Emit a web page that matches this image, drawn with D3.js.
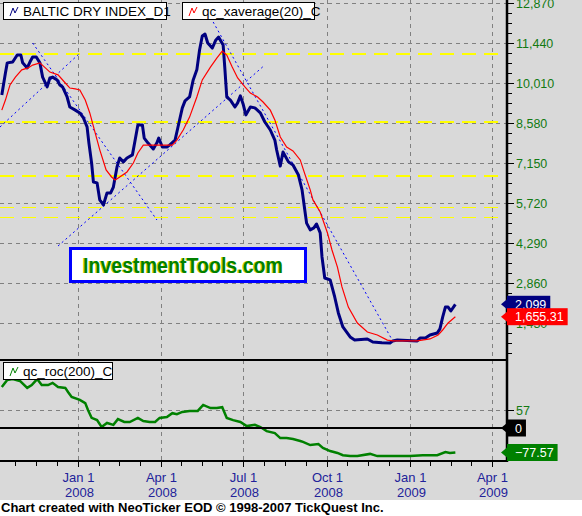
<!DOCTYPE html>
<html><head><meta charset="utf-8">
<script src="https://cdn.jsdelivr.net/npm/d3@7"></script>
<style>body{margin:0;background:#fff}svg{display:block}</style>
</head><body>
<script>
// ---------- DATA ----------
const bdiDates = ["2007-10-09","2007-10-13","2007-10-15","2007-10-21","2007-10-26","2007-10-30","2007-11-01","2007-11-06","2007-11-09","2007-11-12","2007-11-16","2007-11-20","2007-11-23","2007-11-28","2007-12-01","2007-12-04","2007-12-09","2007-12-12","2007-12-15","2007-12-20","2007-12-23","2007-12-29","2008-01-03","2008-01-07","2008-01-11","2008-01-13","2008-01-16","2008-01-18","2008-01-22","2008-01-25","2008-01-29","2008-02-02","2008-02-06","2008-02-09","2008-02-13","2008-02-16","2008-02-20","2008-02-24","2008-03-01","2008-03-04","2008-03-07","2008-03-12","2008-03-14","2008-03-18","2008-03-24","2008-03-28","2008-03-30","2008-04-03","2008-04-08","2008-04-11","2008-04-17","2008-04-20","2008-04-25","2008-04-28","2008-05-03","2008-05-07","2008-05-11","2008-05-14","2008-05-17","2008-05-20","2008-05-23","2008-05-28","2008-06-01","2008-06-04","2008-06-09","2008-06-11","2008-06-13","2008-06-17","2008-06-22","2008-06-25","2008-06-28","2008-07-01","2008-07-04","2008-07-09","2008-07-14","2008-07-20","2008-07-25","2008-07-31","2008-08-05","2008-08-07","2008-08-11","2008-08-14","2008-08-20","2008-08-25","2008-08-31","2008-09-04","2008-09-07","2008-09-09","2008-09-13","2008-09-17","2008-09-20","2008-09-24","2008-09-26","2008-09-29","2008-10-05","2008-10-10","2008-10-14","2008-10-19","2008-10-27","2008-11-01","2008-11-15","2008-11-21","2008-12-01","2008-12-10","2008-12-13","2008-12-18","2009-01-09","2009-01-12","2009-01-18","2009-01-23","2009-01-31","2009-02-03","2009-02-06","2009-02-09","2009-02-12","2009-02-15","2009-02-20"];
const bdiValues = [9580,10370,10730,10760,11010,11010,10730,10550,10760,10940,10940,10730,10220,9870,10190,10220,10120,9940,9870,9510,9150,9040,8940,8760,8440,7870,7150,6470,6440,5830,5650,6080,6080,6290,7010,7330,7190,7330,7440,7970,8510,8510,8040,7870,7650,7870,8040,7720,7720,7790,7970,8400,9120,9370,9510,10120,10480,11190,11690,11760,11440,11260,11550,11650,11370,10480,9510,9400,9150,9300,9550,9260,8870,9150,9120,8940,8615,8330,7970,7615,7040,7540,7190,7080,6720,6190,5470,5000,4760,4830,4970,4650,3790,3040,2970,2360,1790,1290,930,820,860,750,720,715,790,820,790,890,890,1000,1070,1220,1640,2000,2000,1860,2099];

const emaDates = ["2007-10-09","2007-10-13","2007-10-18","2007-10-24","2007-10-31","2007-11-07","2007-11-12","2007-11-20","2007-11-26","2007-12-01","2007-12-10","2007-12-18","2007-12-23","2007-12-29","2008-01-03","2008-01-09","2008-01-14","2008-01-20","2008-01-25","2008-02-01","2008-02-07","2008-02-11","2008-02-16","2008-02-24","2008-03-02","2008-03-07","2008-03-13","2008-03-24","2008-04-04","2008-04-14","2008-04-19","2008-04-26","2008-05-03","2008-05-11","2008-05-17","2008-05-26","2008-06-02","2008-06-08","2008-06-13","2008-06-19","2008-06-25","2008-07-03","2008-07-09","2008-07-17","2008-07-23","2008-07-31","2008-08-05","2008-08-11","2008-08-18","2008-08-25","2008-09-02","2008-09-07","2008-09-13","2008-09-16","2008-09-24","2008-10-02","2008-10-07","2008-10-13","2008-10-18","2008-10-25","2008-11-04","2008-11-15","2008-11-26","2008-12-07","2008-12-13","2009-01-09","2009-01-23","2009-02-01","2009-02-06","2009-02-12","2009-02-20"];
const emaValues = [9040,9400,9940,10220,10480,10550,10650,10730,10550,10400,10300,10010,9830,9800,9760,9400,8940,8220,7620,6900,6650,6540,6650,6830,7150,7510,7790,7790,7790,7790,7970,8330,8790,9510,10120,10580,10900,11150,11010,10580,10190,9870,9650,9510,9330,9040,8690,8080,7720,7580,7260,6760,6190,5830,5400,4650,4040,3430,2720,2000,1430,1110,1000,820,790,790,860,1000,1180,1430,1655.31];

const rocDates = ["2007-10-09","2007-10-15","2007-10-21","2007-10-29","2007-11-06","2007-11-11","2007-11-17","2007-11-22","2007-11-29","2007-12-04","2007-12-10","2007-12-18","2007-12-21","2007-12-25","2008-01-03","2008-01-09","2008-01-12","2008-01-16","2008-01-22","2008-01-27","2008-02-02","2008-02-09","2008-02-14","2008-02-21","2008-02-27","2008-03-07","2008-03-13","2008-03-20","2008-03-26","2008-03-31","2008-04-08","2008-04-14","2008-04-19","2008-04-25","2008-05-03","2008-05-12","2008-05-18","2008-05-26","2008-06-02","2008-06-08","2008-06-13","2008-06-20","2008-06-28","2008-07-05","2008-07-14","2008-07-20","2008-07-27","2008-08-05","2008-08-11","2008-08-18","2008-08-25","2008-09-02","2008-09-05","2008-09-13","2008-09-22","2008-09-27","2008-10-05","2008-10-13","2008-10-19","2008-10-27","2008-11-04","2008-11-18","2008-11-26","2008-12-18","2009-01-01","2009-01-15","2009-01-31","2009-02-09","2009-02-14","2009-02-20"];
const rocValues = [130,152,155,149,127,136,155,136,136,143,130,127,114,98,89,79,57,32,25,3,16,10,28,19,19,32,22,19,19,32,35,47,44,51,54,54,73,63,63,66,32,25,19,6,10,3,-10,-16,-32,-32,-35,-41,-44,-54,-51,-63,-73,-79,-86,-89,-89,-82,-89,-89,-89,-86,-86,-76,-79,-77.57];

const priceTicks = [1430,2860,4290,5720,7150,8580,10010,11440,12870];
const rocTicks = [57];
const quarterDates = ["2008-01-01","2008-04-01","2008-07-01","2008-10-01","2009-01-01","2009-04-01"];
const quarterMonthLabels = ["Jan 1","Apr 1","Jul 1","Oct 1","Jan 1","Apr 1"];
const quarterYearLabels = ["2008","2008","2008","2008","2009","2009"];
const minorTickStart = "2007-10-01";

const levelsThick = [11047, 8616, 6685];
const levelsThin = [5577, 5220];
// trend lines: [startDate, startValue, endDate, endValue]
const trendLines = [
  ["2007-10-07", 8437, "2008-01-02", 11047],
  ["2007-11-12", 11440, "2008-03-28", 5112],
  ["2007-12-10", 4183, "2008-07-25", 10654],
  ["2008-05-29", 12191, "2008-12-13", 787]
];
const seriesNames = ["BALTIC DRY INDEX_D1", "qc_xaverage(20)_C", "qc_roc(200)_C"];

// ---------- CHART ----------
const W = 582, H = 516;
const FONT = "'Liberation Sans', Arial, sans-serif";
const parse = d3.timeParse("%Y-%m-%d");
const R = 507, mainBot = 359, lowTop = 360, lowBot = 461;

const x = d3.scaleTime().domain([parse("2008-01-01"), parse("2009-01-01")]).range([78, 410]);
const y = d3.scaleLinear().domain([1430, 12870]).range([323, 3]);
const yr = d3.scaleLinear().domain([0, 57]).range([428, 410]);

const svg = d3.select("body").append("svg").attr("width", W).attr("height", H)
  .style("font-family", FONT);

svg.append("rect").attr("width", W).attr("height", 500).attr("fill", "#d9d9d9");
svg.append("rect").attr("y", 500).attr("width", W).attr("height", 16).attr("fill", "#ffffff");

const defs = svg.append("defs");
defs.append("clipPath").attr("id", "cm").append("rect").attr("x", 0).attr("y", 0).attr("width", R).attr("height", mainBot);
defs.append("clipPath").attr("id", "cl").append("rect").attr("x", 0).attr("y", lowTop).attr("width", R).attr("height", lowBot - lowTop);

const gMain = svg.append("g").attr("clip-path", "url(#cm)");
const gLow = svg.append("g").attr("clip-path", "url(#cl)");

const qd = quarterDates.map(parse);

// grid
priceTicks.forEach(v => {
  gMain.append("line").attr("x1", 0).attr("x2", R).attr("y1", Math.round(y(v)) + 0.5).attr("y2", Math.round(y(v)) + 0.5)
    .attr("stroke", "#808080").attr("stroke-dasharray", "4,4");
});
qd.forEach(d => {
  const px = Math.round(x(d)) + 0.5;
  gMain.append("line").attr("x1", px).attr("x2", px).attr("y1", 0).attr("y2", mainBot)
    .attr("stroke", "#808080").attr("stroke-dasharray", "4,4");
  gLow.append("line").attr("x1", px).attr("x2", px).attr("y1", lowTop).attr("y2", lowBot)
    .attr("stroke", "#808080").attr("stroke-dasharray", "4,4");
});
rocTicks.forEach(v => {
  gLow.append("line").attr("x1", 0).attr("x2", R).attr("y1", Math.round(yr(v)) + 0.5).attr("y2", Math.round(yr(v)) + 0.5)
    .attr("stroke", "#808080").attr("stroke-dasharray", "4,4");
});

// yellow levels
levelsThick.forEach(v => {
  gMain.append("line").attr("x1", 0).attr("x2", R).attr("y1", y(v)).attr("y2", y(v))
    .attr("stroke", "#ffff00").attr("stroke-width", 2).attr("stroke-dasharray", "14,8");
});
levelsThin.forEach(v => {
  gMain.append("line").attr("x1", 0).attr("x2", R).attr("y1", Math.round(y(v)) + 0.5).attr("y2", Math.round(y(v)) + 0.5)
    .attr("stroke", "#ffff00").attr("stroke-width", 1).attr("stroke-dasharray", "14,8");
});

// trend lines
trendLines.forEach(t => {
  gMain.append("line").attr("x1", x(parse(t[0]))).attr("y1", y(t[1]))
    .attr("x2", x(parse(t[2]))).attr("y2", y(t[3]))
    .attr("stroke", "#0000ff").attr("stroke-width", 1).attr("stroke-dasharray", "2,3");
});

// series
const bdi = bdiDates.map((d, i) => ({ date: parse(d), value: bdiValues[i] }));
const ema = emaDates.map((d, i) => ({ date: parse(d), value: emaValues[i] }));
const roc = rocDates.map((d, i) => ({ date: parse(d), value: rocValues[i] }));

const lineMain = d3.line().x(d => x(d.date)).y(d => y(d.value));
const lineLow = d3.line().x(d => x(d.date)).y(d => yr(d.value));

gMain.append("path").datum(bdi).attr("d", lineMain).attr("fill", "none")
  .attr("stroke", "#000080").attr("stroke-width", 3).attr("stroke-linejoin", "round");
gMain.append("path").datum(ema).attr("d", lineMain).attr("fill", "none")
  .attr("stroke", "#ff0000").attr("stroke-width", 1.2);
gLow.append("path").datum(roc).attr("d", lineLow).attr("fill", "none")
  .attr("stroke", "#008000").attr("stroke-width", 2.5);

// panel borders
svg.append("line").attr("x1", 0).attr("x2", R).attr("y1", 360).attr("y2", 360).attr("stroke", "#000").attr("stroke-width", 2);
svg.append("line").attr("x1", 0).attr("x2", R).attr("y1", yr(0)).attr("y2", yr(0)).attr("stroke", "#000").attr("stroke-width", 2);
svg.append("line").attr("x1", 0).attr("x2", R + 1).attr("y1", 461).attr("y2", 461).attr("stroke", "#000").attr("stroke-width", 2);
svg.append("line").attr("x1", R).attr("x2", R).attr("y1", 0).attr("y2", 462).attr("stroke", "#000").attr("stroke-width", 2.5);

// right axis (price)
const minorY = [];
for (let v = 0; v <= 12870 + 1; v += 357.5) minorY.push(v);
minorY.forEach(v => {
  const py = Math.round(y(v)) + 0.5;
  if (py > 0 && py < mainBot) svg.append("line").attr("x1", R + 1).attr("x2", R + 5).attr("y1", py).attr("y2", py).attr("stroke", "#000");
});
const TICKCOL = "#127a12";
priceTicks.forEach(v => {
  const py = Math.round(y(v)) + 0.5;
  svg.append("line").attr("x1", R + 1).attr("x2", R + 7).attr("y1", py).attr("y2", py).attr("stroke", "#000");
  svg.append("text").attr("x", 516).attr("y", py + 4.5).attr("font-size", 12.5).attr("fill", TICKCOL)
    .text(d3.format(",")(v));
});
rocTicks.forEach(v => {
  const py = Math.round(yr(v)) + 0.5;
  svg.append("line").attr("x1", R + 1).attr("x2", R + 7).attr("y1", py).attr("y2", py).attr("stroke", "#000");
  svg.append("text").attr("x", 516).attr("y", py + 4.5).attr("font-size", 12.5).attr("fill", TICKCOL).text(v);
});

// x axis ticks
const qAll = [parse(minorTickStart)].concat(qd);
for (let i = 0; i < qAll.length - 1; i++) {
  const a = qAll[i].getTime(), b = qAll[i + 1].getTime();
  for (let k = 1; k < 4; k++) {
    const px = Math.round(x(new Date(a + (b - a) * k / 4))) + 0.5;
    if (px > 0 && px < R) svg.append("line").attr("x1", px).attr("x2", px).attr("y1", 461).attr("y2", 466).attr("stroke", "#000");
  }
}
qd.forEach((d, i) => {
  const px = Math.round(x(d)) + 0.5;
  svg.append("line").attr("x1", px).attr("x2", px).attr("y1", 461).attr("y2", 467).attr("stroke", "#000");
  svg.append("text").attr("x", px).attr("y", 482).attr("text-anchor", "middle").attr("font-size", 13)
    .attr("fill", "#22229a").text(quarterMonthLabels[i]);
  svg.append("text").attr("x", px + 1).attr("y", 497).attr("text-anchor", "middle").attr("font-size", 13)
    .attr("fill", "#22229a").text(quarterYearLabels[i]);
});

// value markers
function marker(py, txt, fill) {
  const g = svg.append("g");
  g.append("path").attr("d", `M${R - 6},${py} L${R},${py - 5} L${R},${py + 5} Z`).attr("fill", fill);
  const t = g.append("text").attr("x", R + 8).attr("y", py + 4.5).attr("font-size", 12.5).attr("fill", "#fff").text(txt);
  const w = t.node().getComputedTextLength();
  g.insert("rect", "text").attr("x", R).attr("y", py - 8.5).attr("width", w + 12).attr("height", 17).attr("fill", fill);
}
marker(y(bdiValues[bdiValues.length - 1]), d3.format(",")(bdiValues[bdiValues.length - 1]), "#000080");
marker(y(emaValues[emaValues.length - 1]), d3.format(",.2f")(emaValues[emaValues.length - 1]), "#ff0000");
marker(yr(0), "0", "#000000");
marker(yr(rocValues[rocValues.length - 1]), d3.format(".2f")(rocValues[rocValues.length - 1]), "#008000");

// legends
function legend(x0, y0, w, label, col) {
  const g = svg.append("g");
  g.append("rect").attr("x", x0 + 0.5).attr("y", y0 + 0.5).attr("width", w).attr("height", 17)
    .attr("fill", "#fff").attr("stroke", "#000");
  g.append("polyline").attr("points", `${x0 + 7},${y0 + 14} ${x0 + 10},${y0 + 6} ${x0 + 12},${y0 + 11} ${x0 + 15},${y0 + 5}`)
    .attr("fill", "none").attr("stroke", col).attr("stroke-width", 1);
  g.append("text").attr("x", x0 + 20).attr("y", y0 + 13.5).attr("font-size", 13.5).attr("fill", "#000").text(label);
}
legend(3, 2, 163, seriesNames[0], "#000080");
legend(182, 2, 132, seriesNames[1], "#ff0000");
legend(3, 362, 109, seriesNames[2], "#008000");

// InvestmentTools.com box
svg.append("rect").attr("x", 70.5).attr("y", 248.5).attr("width", 235).attr("height", 33)
  .attr("fill", "#fff").attr("stroke", "#0000ff").attr("stroke-width", 3);
svg.append("text").attr("x", 82).attr("y", 273).attr("font-size", 22).attr("font-weight", "bold")
  .attr("textLength", 200).attr("lengthAdjust", "spacingAndGlyphs").attr("fill", "#d4d400").text("InvestmentTools.com");
svg.append("text").attr("x", 83).attr("y", 273).attr("font-size", 22).attr("font-weight", "bold")
  .attr("textLength", 200).attr("lengthAdjust", "spacingAndGlyphs").attr("fill", "#008000").text("InvestmentTools.com");

// footer
svg.append("text").attr("x", 1).attr("y", 512).attr("font-size", 13).attr("font-weight", "bold")
  .attr("fill", "#000").text("Chart created with NeoTicker EOD \u00a9 1998-2007 TickQuest Inc.");
</script>
</body></html>
